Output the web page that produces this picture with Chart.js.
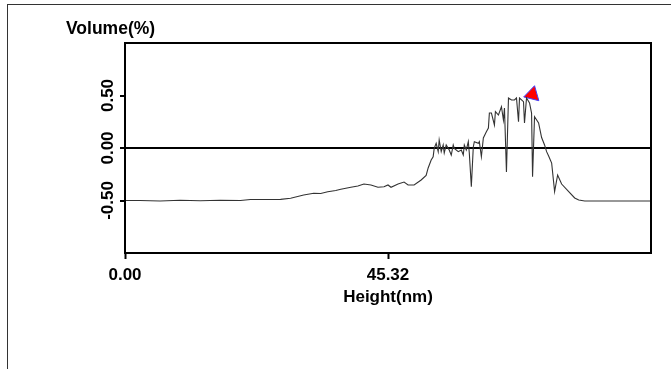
<!DOCTYPE html>
<html>
<head>
<meta charset="utf-8">
<script src="https://cdn.jsdelivr.net/npm/chart.js@4/dist/chart.umd.min.js"></script>
<style>
  html, body { margin: 0; padding: 0; background: #fff; overflow: hidden; }
  #wrap { position: relative; width: 671px; height: 369px; }
  #frame { position: absolute; left: 7px; top: 4px; right: 0; bottom: 0;
           border-top: 1px solid #333; border-left: 1px solid #333; }
  canvas { position: absolute; left: 0; top: 0; }
</style>
</head>
<body>
<div id="wrap">
  <div id="frame"></div>
  <canvas id="volume-chart" width="671" height="369"></canvas>
</div>
<script>
// height (nm) and volume (%)
const heightNm = [0, 2.59, 6.05, 9.51, 12.97, 16.43, 19.89, 21.62, 24.22, 26.81,
  28.54, 30.79, 32.52, 33.73, 34.94, 36.32, 37.19, 38.92, 40.13, 41.17,
  42.38, 43.59, 44.63, 45.32, 45.84, 47.05, 48.09, 48.78, 49.82, 51.03,
  51.89, 52.24, 52.76, 53.10, 53.28, 53.62, 53.97, 54.14, 54.49, 54.83,
  55.01, 55.35, 55.87, 56.22, 56.56, 56.74, 57.43, 57.95, 58.29, 58.47,
  58.81, 59.16, 59.33, 59.68, 60.02, 60.20, 60.89, 61.06, 61.41, 61.75,
  62.27, 62.62, 62.79, 63.14, 63.66, 63.83, 64.35, 64.87, 65.21, 65.39,
  65.73, 66.08, 66.60, 67.11, 67.46, 67.81, 67.98, 68.67, 68.84, 69.19,
  69.71, 70.06, 70.23, 70.57, 71.27, 71.79, 72.30, 72.65, 73.00, 73.52,
  74.03, 74.55, 75.24, 76.46, 77.49, 78.19, 79.22, 90.64];
const volumePct = [-0.50, -0.50, -0.505, -0.498, -0.502, -0.498, -0.50, -0.49, -0.49, -0.489,
  -0.479, -0.448, -0.431, -0.433, -0.416, -0.405, -0.393, -0.374, -0.362, -0.343,
  -0.352, -0.374, -0.369, -0.352, -0.374, -0.343, -0.324, -0.352, -0.352, -0.305,
  -0.262, -0.19, -0.114, -0.083, -0.003, 0.045, -0.035, 0.076, -0.035, 0.029,
  -0.048, 0.029, -0.019, -0.067, 0.029, -0.003, -0.035, -0.019, -0.067, 0.029,
  -0.019, 0.06, -0.048, -0.369, 0.012, 0.06, 0.045, 0.06, -0.083, 0.095,
  0.155, 0.19, 0.333, 0.333, 0.219, 0.346, 0.314, 0.393, 0.267, 0.381,
  -0.229, 0.476, 0.457, 0.457, 0.476, 0.25, 0.476, 0.441, 0.238, 0.476,
  0.429, 0.333, -0.273, 0.298, 0.238, 0.10, 0.029, -0.035, -0.076, -0.143,
  -0.416, -0.257, -0.343, -0.416, -0.476, -0.495, -0.505, -0.505];

const xTickValues = [0, 45.32];
const yTickValues = [-0.5, 0, 0.5];
const xMax = 90.64;

// peak marker
const markerX = [70.2];
const markerY = [0.51];

Chart.defaults.font.family = "'Liberation Sans', Arial, sans-serif";
Chart.defaults.color = '#000';

const profilePoints = heightNm.map((h, i) => ({x: h, y: volumePct[i]}));
const markerPoints = markerX.map((h, i) => ({x: h, y: markerY[i]}));

// box around the plot area
const plotBox = {
  id: 'plotBox',
  afterDraw(chart) {
    const a = chart.chartArea;
    const ctx = chart.ctx;
    ctx.save();
    ctx.strokeStyle = '#000';
    ctx.lineWidth = 2;
    ctx.strokeRect(a.left, a.top, a.right - a.left, a.bottom - a.top);
    ctx.restore();
  }
};

const volumeCanvas = document.getElementById("volume-chart");

let volumeChart = new Chart(volumeCanvas, {
  type: 'line',
  data: {
    datasets: [{
      data: profilePoints,
      borderColor: '#333',
      borderWidth: 1.1,
      pointRadius: 0,
      tension: 0,
      fill: false
    }, {
      type: 'scatter',
      data: markerPoints,
      pointStyle: 'triangle',
      pointRadius: 9,
      rotation: 14,
      backgroundColor: '#ff0000',
      borderColor: '#4040ff',
      borderWidth: 1
    }]
  },
  options: {
    responsive: false,
    animation: false,
    layout: {
      padding: {left: 66, top: 10, right: 20, bottom: 56}
    },
    plugins: {
      legend: {display: false},
      tooltip: {enabled: false},
      title: {
        display: true,
        text: 'Volume(%)',
        align: 'start',
        color: '#000',
        font: {size: 17.5, weight: 'bold'},
        padding: {top: 9, bottom: 3}
      }
    },
    scales: {
      x: {
        type: 'linear',
        min: 0,
        max: xMax,
        afterBuildTicks: scale => { scale.ticks = xTickValues.map(v => ({value: v})); },
        afterFit: scale => { scale.height = 60; },
        border: {display: false},
        grid: {
          drawOnChartArea: false,
          drawTicks: true,
          tickLength: 6,
          tickWidth: 2,
          tickColor: '#000'
        },
        ticks: {
          padding: 6,
          font: {size: 17, weight: 'bold'},
          maxRotation: 0,
          callback: v => Number(v).toFixed(2)
        },
        title: {
          display: true,
          text: 'Height(nm)',
          font: {size: 17, weight: 'bold'},
          padding: {top: 0, bottom: 5}
        }
      },
      y: {
        min: -1,
        max: 1,
        afterBuildTicks: scale => { scale.ticks = yTickValues.map(v => ({value: v})); },
        afterFit: scale => { scale.width = 59; },
        border: {display: false},
        grid: {
          color: ctx => (ctx.tick && ctx.tick.value === 0) ? '#000' : 'rgba(0,0,0,0)',
          lineWidth: 2,
          drawTicks: true,
          tickLength: 5,
          tickWidth: 2,
          tickColor: '#000'
        },
        ticks: {
          minRotation: 90,
          maxRotation: 90,
          crossAlign: 'center',
          padding: -8,
          font: {size: 17, weight: 'bold'},
          callback: v => Number(v).toFixed(2)
        }
      }
    }
  },
  plugins: [plotBox]
});
</script>
</body>
</html>
